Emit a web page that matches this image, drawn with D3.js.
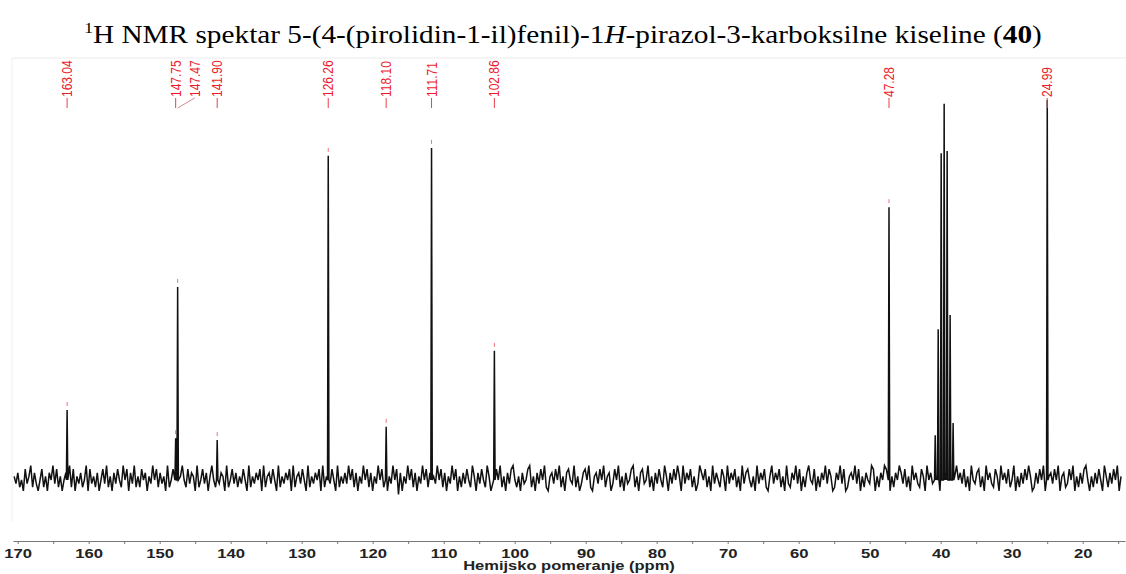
<!DOCTYPE html>
<html>
<head>
<meta charset="utf-8">
<script src="https://cdn.jsdelivr.net/npm/d3@7"></script>
<style>
  body { margin: 0; background: #fff; }
  svg { display: block; }
</style>
</head>
<body>
<div id="graf"></div>
<script>
// I. Datos
const peakPpm    = [163.04, 147.75, 147.47, 141.90, 126.26, 118.10, 111.71, 102.86, 47.28, 24.99]
const peakHeight = [18.4, 11, 50.8, 10.5, 85.3, 14, 87.4, 34, 71.8, 100]
const peakLabels = ['163.04', '147.75', '147.47', '141.90', '126.26', '118.10', '111.71', '102.86', '47.28', '24.99']

// DMSO-d6 septeto
const solventPpm    = [40.77, 40.35, 39.93, 39.51, 39.09, 38.67, 38.25]
const solventHeight = [11.8, 39.7, 86, 99, 86.6, 43.4, 15]

const axisTicks = [170, 165, 160, 155, 150, 145, 140, 135, 130, 125, 120, 115, 110, 105, 100, 95, 90,
                   85, 80, 75, 70, 65, 60, 55, 50, 45, 40, 35, 30, 25, 20, 15]
const traceStart = 170.5
const traceEnd = 14.6

// ruido de la línea base: un dígito por punto, 4 = cero
const noiseDigits =
  '536241735826314725164837251463827153624817352614738251637428' +
  '471638252746153847263518247361584273651824736158427365182473' +
  '625374182536471825637418253647182563741825364718256374182536' +
  '384726153847261538472615384706153847261538472615384726153847' +
  '152637428516374285136748251637842516347825163748215637482516' +
  '743825136748215637482561374825163478251673482516374285163748' +
  '518364725138647251836427518364725183674251836472158364725183' +
  '264837152684371526483751264837125648371526438715264873152648' +
  '637251846327518463752184637215846372518436725184632751846372' +
  '481526374851263748125637481562374815263784152637418526374815'
const noise = noiseDigits.split('').map(c => (+c - 4) * 0.95)

// II. Configuración
const ancho = 1126, alto = 574

const svg = d3.select('#graf').append('svg')
  .attr('width', ancho)
  .attr('height', alto)

const x = d3.scaleLinear().domain([170.66, 14.04]).range([13, 1125])
const y = d3.scaleLinear().domain([0, 100]).range([480, 100])
const idx = d3.scaleLinear().domain([0, noise.length - 1]).range([traceStart, traceEnd])

// marco tenue
svg.append('line').attr('x1', 12).attr('x2', ancho).attr('y1', 58).attr('y2', 58)
  .attr('stroke', '#ebebeb')
svg.append('line').attr('x1', 12).attr('x2', 12).attr('y1', 58).attr('y2', 522)
  .attr('stroke', '#f0f0f0')

// título
const titulo = svg.append('text')
  .attr('font-family', '"Liberation Serif", "Times New Roman", serif')
  .attr('font-size', 25)
  .attr('fill', '#000')
  .attr('text-anchor', 'middle')
titulo.append('tspan').attr('font-size', 15).attr('dy', -10).text('1')
titulo.append('tspan').attr('dy', 10).text('H NMR spektar 5-(4-(pirolidin-1-il)fenil)-1')
titulo.append('tspan').attr('font-style', 'italic').text('H')
titulo.append('tspan').text('-pirazol-3-karboksilne kiseline (')
titulo.append('tspan').attr('font-weight', 'bold').text('40')
titulo.append('tspan').text(')')
const tw = titulo.node().getComputedTextLength()
titulo.attr('transform', `translate(563, 43) scale(${ 958 / tw }, 1)`)

// III. Espectro
const peaks = peakPpm.map((p, i) => ({ ppm: p, h: peakHeight[i] }))
  .concat(solventPpm.map((p, i) => ({ ppm: p, h: solventHeight[i] })))

let pts = noise.map((v, i) => ({ ppm: idx(i), h: v }))
  .filter(d => !peaks.some(p => Math.abs(p.ppm - d.ppm) < 0.14))
peaks.forEach(p => {
  pts.push({ ppm: p.ppm + 0.1, h: 0 })
  pts.push({ ppm: p.ppm, h: p.h })
  pts.push({ ppm: p.ppm - 0.1, h: 0 })
})
pts.sort((a, b) => b.ppm - a.ppm)

const linea = d3.line().x(d => x(d.ppm)).y(d => y(d.h))

svg.append('path')
  .datum(pts)
  .attr('fill', 'none')
  .attr('stroke', '#111')
  .attr('stroke-width', 1.5)
  .attr('d', linea)

// marcas rojas sobre los picos
svg.selectAll('.marca')
  .data(peaks.slice(0, peakPpm.length).filter(d => y(d.h) > 115))
  .enter().append('line')
  .attr('x1', d => x(d.ppm)).attr('x2', d => x(d.ppm))
  .attr('y1', d => y(d.h) - 8).attr('y2', d => y(d.h) - 4)
  .attr('stroke', '#f07080')
  .attr('stroke-width', 1)

// IV. Etiquetas de picos
let prev = -Infinity
const etiquetas = peakPpm.map((p, i) => {
  let lx = Math.max(x(p), prev + 19)
  prev = lx
  return { px: x(p), lx: lx, texto: peakLabels[i] }
})

svg.selectAll('.guia')
  .data(etiquetas)
  .enter().append('line')
  .attr('x1', d => d.lx).attr('y1', 98)
  .attr('x2', d => d.px).attr('y2', 108)
  .attr('stroke', d => d.lx === d.px ? '#e8404f' : '#d48a96')
  .attr('stroke-width', 1)

svg.selectAll('.etiqueta')
  .data(etiquetas)
  .enter().append('text')
  .attr('transform', d => `translate(${ d.lx }, 97) scale(1.25, 1) rotate(-90)`)
  .attr('text-anchor', 'start')
  .attr('dominant-baseline', 'central')
  .attr('font-family', '"Liberation Sans", Arial, sans-serif')
  .attr('font-size', 12)
  .attr('fill', '#ec1c2c')
  .text(d => d.texto)

// V. Eje
const xAxisGroup = svg.append('g')
  .attr('transform', 'translate(0, 541)')

const xAxisCall = d3.axisBottom(x)
  .tickValues(axisTicks)
  .tickSize(3)
  .tickSizeOuter(0)
  .tickFormat(d => d % 10 === 0 ? d : '')
xAxisGroup.call(xAxisCall)
xAxisGroup.select('.domain').attr('stroke', '#777')
xAxisGroup.selectAll('.tick line').attr('stroke', '#777')
xAxisGroup.selectAll('.tick text')
  .attr('y', 17)
  .attr('dy', null)
  .attr('transform', 'scale(1.28, 1)')
  .attr('font-family', '"Liberation Sans", Arial, sans-serif')
  .attr('font-weight', 'bold')
  .attr('font-size', 13)
  .attr('fill', '#222')

svg.append('text')
  .attr('transform', 'translate(569, 570) scale(1.27, 1)')
  .attr('text-anchor', 'middle')
  .attr('font-family', '"Liberation Sans", Arial, sans-serif')
  .attr('font-weight', 'bold')
  .attr('font-size', 13)
  .attr('fill', '#222')
  .text('Hemijsko pomeranje (ppm)')
</script>
</body>
</html>
